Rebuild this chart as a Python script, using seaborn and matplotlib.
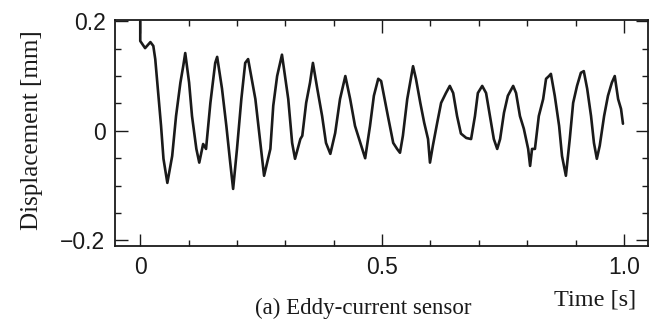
import matplotlib
matplotlib.use("Agg")
import matplotlib.pyplot as plt
from matplotlib.ticker import MultipleLocator, FixedLocator, FixedFormatter
import seaborn as sns
import pandas as pd

# ---- data ----
time_s = [0.000, 0.000, 0.010, 0.021, 0.027, 0.031, 0.037, 0.043, 0.048, 0.056,
          0.066, 0.074, 0.083, 0.089, 0.093, 0.101, 0.107, 0.116, 0.122, 0.130,
          0.136, 0.145, 0.155, 0.159, 0.169, 0.178, 0.186, 0.192, 0.200, 0.209,
          0.217, 0.223, 0.238, 0.256, 0.269, 0.275, 0.283, 0.293, 0.306, 0.314,
          0.320, 0.331, 0.335, 0.343, 0.351, 0.357, 0.366, 0.376, 0.384, 0.393,
          0.403, 0.413, 0.424, 0.434, 0.444, 0.455, 0.465, 0.475, 0.483, 0.492,
          0.498, 0.512, 0.523, 0.531, 0.537, 0.543, 0.552, 0.558, 0.564, 0.570,
          0.579, 0.587, 0.595, 0.599, 0.605, 0.614, 0.622, 0.632, 0.640, 0.647,
          0.655, 0.663, 0.674, 0.684, 0.692, 0.698, 0.707, 0.715, 0.723, 0.731,
          0.738, 0.744, 0.752, 0.760, 0.771, 0.777, 0.785, 0.793, 0.802, 0.806,
          0.810, 0.816, 0.824, 0.833, 0.839, 0.845, 0.849, 0.857, 0.866, 0.872,
          0.880, 0.888, 0.895, 0.903, 0.911, 0.917, 0.924, 0.932, 0.938, 0.944,
          0.950, 0.959, 0.967, 0.975, 0.981, 0.988, 0.994, 0.998]
disp_mm = [0.200, 0.164, 0.151, 0.162, 0.155, 0.131, 0.069, 0.009, -0.051, -0.095,
           -0.046, 0.027, 0.088, 0.119, 0.142, 0.088, 0.027, -0.033, -0.058, -0.024,
           -0.033, 0.051, 0.124, 0.135, 0.077, 0.009, -0.058, -0.106, -0.033, 0.058,
           0.124, 0.131, 0.058, -0.082, -0.033, 0.046, 0.100, 0.139, 0.058, -0.022,
           -0.051, -0.015, -0.009, 0.051, 0.088, 0.124, 0.077, 0.027, -0.022, -0.042,
           -0.004, 0.058, 0.100, 0.058, 0.009, -0.022, -0.050, 0.009, 0.064, 0.095,
           0.091, 0.027, -0.022, -0.033, -0.040, -0.009, 0.058, 0.088, 0.118, 0.095,
           0.051, 0.015, -0.015, -0.058, -0.027, 0.015, 0.051, 0.069, 0.082, 0.069,
           0.027, -0.005, -0.013, -0.015, 0.027, 0.069, 0.082, 0.069, 0.027, -0.015,
           -0.033, -0.015, 0.033, 0.064, 0.082, 0.069, 0.027, 0.004, -0.033, -0.064,
           -0.033, -0.033, 0.027, 0.058, 0.095, 0.100, 0.104, 0.064, 0.009, -0.046,
           -0.082, -0.015, 0.051, 0.082, 0.106, 0.109, 0.077, 0.027, -0.022, -0.051,
           -0.027, 0.027, 0.064, 0.088, 0.100, 0.058, 0.040, 0.013]

x_major = [0.0, 0.5, 1.0]
x_major_labels = ["0", "0.5", "1.0"]
y_major = [-0.2, 0.0, 0.2]
y_major_labels = ["\u22120.2", "0", "0.2"]

x_label = "Time [s]"
y_label = "Displacement [mm]"
caption = "(a) Eddy-current sensor"

df = pd.DataFrame({"t": time_s, "d": disp_mm})

sns.set_style("ticks")
plt.rcParams["font.family"] = ["Liberation Sans", "DejaVu Sans"]

fig = plt.figure(figsize=(6.54, 3.21), dpi=100)
ax = fig.add_axes([0.176, 0.234, 0.815, 0.704])

sns.lineplot(data=df, x="t", y="d", ax=ax, sort=False, estimator=None,
             color="#1a1a1a", linewidth=1.9)

ax.set_xlim(-0.052, 1.05)
ax.set_ylim(-0.21, 0.2025)

ax.xaxis.set_major_locator(FixedLocator(x_major))
ax.xaxis.set_major_formatter(FixedFormatter(x_major_labels))
ax.xaxis.set_minor_locator(MultipleLocator(0.1))
ax.yaxis.set_major_locator(FixedLocator(y_major))
ax.yaxis.set_major_formatter(FixedFormatter(y_major_labels))
ax.yaxis.set_minor_locator(MultipleLocator(0.05))

ax.tick_params(which="both", direction="in", top=True, right=True,
               color="#1a1a1a", width=1.0)
ax.tick_params(which="major", length=9, labelsize=16.5, pad=7, labelcolor="#1a1a1a")
ax.tick_params(which="minor", length=4)

for s in ax.spines.values():
    s.set_visible(True)
    s.set_linewidth(1.3)
    s.set_color("#1a1a1a")

ax.set_xlabel("")
ax.set_ylabel("")
fig.text(0.049, 0.595, y_label, rotation=90, ha="center", va="center",
         fontsize=18, family=["Liberation Serif", "DejaVu Serif"], color="#1a1a1a")
fig.text(0.91, 0.065, x_label, ha="center", va="center",
         fontsize=17.5, family=["Liberation Serif", "DejaVu Serif"], color="#1a1a1a")
fig.text(0.555, 0.006, caption, ha="center", va="bottom",
         fontsize=16.5, family=["Liberation Serif", "DejaVu Serif"], color="#1a1a1a")

fig.savefig("out.png", dpi=100)
